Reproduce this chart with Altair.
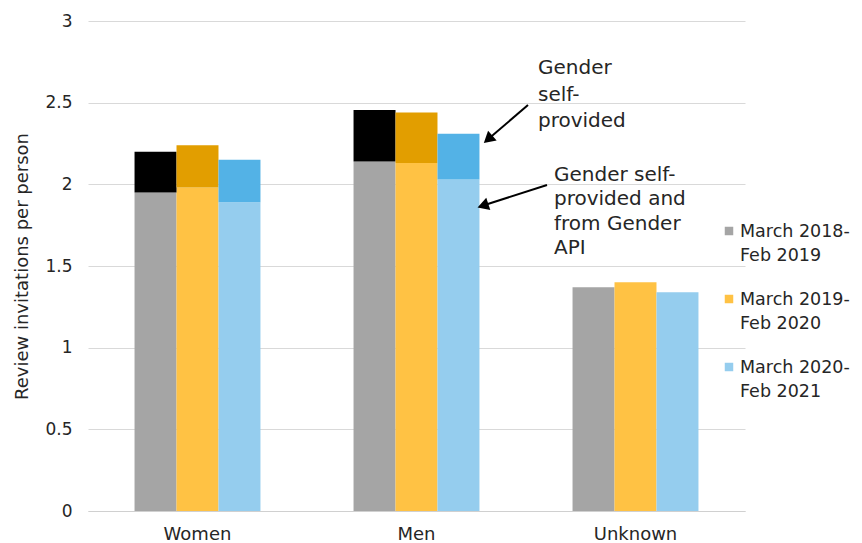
import altair as alt
import pandas as pd

categories = ["Women", "Men", "Unknown"]
periods = ["March 2018-Feb 2019", "March 2019-Feb 2020", "March 2020-Feb 2021"]
legend_line1 = ["March 2018-", "March 2019-", "March 2020-"]
legend_line2 = ["Feb 2019", "Feb 2020", "Feb 2021"]
# lower segment: gender from self-provided and Gender API
base_values = {
    "Women": [1.95, 1.98, 1.89],
    "Men": [2.14, 2.13, 2.03],
    "Unknown": [1.37, 1.40, 1.34],
}
# full bar height: gender self-provided (only Women/Men)
total_values = {
    "Women": [2.20, 2.24, 2.15],
    "Men": [2.455, 2.44, 2.31],
}
base_colors = ["#a5a5a5", "#ffc244", "#95cdee"]
top_colors = ["#000000", "#e29e00", "#53b2e6"]
y_ticks = [0, 0.5, 1, 1.5, 2, 2.5, 3]

annot_texts = ["Gender\nself-\nprovided", "Gender self-\nprovided and\nfrom Gender\nAPI"]
annot_x = [450, 466]
annot_y = [53, 160]
annot_lh = [26.5, 24.3]
# arrows: tail / head (x in px within plot, y in data units)
arrow_x1 = [440, 459]
arrow_y1 = [2.486, 1.996]
arrow_x2 = [401.5, 396.7]
arrow_y2 = [2.283, 1.873]
arrow_angle = [229, 252]

# legend placement (px within plot)
leg_x = 641
leg_y0 = 210
leg_step = 68

FONT = "DejaVu Sans"
TXT = "#262626"

rows = []
for c in categories:
    for i, p in enumerate(periods):
        b = base_values[c][i]
        t = total_values.get(c, [None] * 3)[i]
        rows.append({"category": c, "period": p, "base": b, "total": t,
                     "top_period": p + " top"})
df = pd.DataFrame(rows)
df_top = df.dropna(subset=["total"])

xenc = alt.X("category:N", sort=categories,
             scale=alt.Scale(paddingInner=0.425, paddingOuter=0.2125),
             axis=alt.Axis(title=None, labelAngle=0, ticks=False, domainColor="#d0d0d0",
                           labelFontSize=18, labelPadding=14, labelColor=TXT,
                           labelFont=FONT, grid=False))
xoff = alt.XOffset("period:N", sort=periods, scale=alt.Scale(paddingInner=0, paddingOuter=0))
yscale = alt.Scale(domain=[0, 3], nice=False)

base = alt.Chart(df).mark_bar().encode(
    x=xenc,
    xOffset=xoff,
    y=alt.Y("base:Q", scale=yscale,
            axis=alt.Axis(title="Review invitations per person", values=y_ticks,
                          format="~g",
                          domain=False, ticks=False, gridColor="#d9d9d9",
                          labelFontSize=17, labelPadding=16, labelColor=TXT,
                          labelFont=FONT, titleFont=FONT, titleFontSize=18,
                          titleFontWeight="normal", titleColor=TXT,
                          titlePadding=13)),
    color=alt.Color("period:N", sort=periods,
                    scale=alt.Scale(domain=periods, range=base_colors), legend=None),
)

top = alt.Chart(df_top).mark_bar().encode(
    x=alt.X("category:N", sort=categories),
    xOffset=xoff,
    y=alt.Y("base:Q", scale=yscale),
    y2="total:Q",
    color=alt.Color("top_period:N", scale=alt.Scale(domain=[p + " top" for p in periods],
                                                    range=top_colors), legend=None),
)

texts = []
for t, x, y, lh in zip(annot_texts, annot_x, annot_y, annot_lh):
    texts.append(alt.Chart(pd.DataFrame({"t": [t]})).mark_text(
        align="left", baseline="alphabetic", fontSize=20, font=FONT, color=TXT,
        lineBreak="\n", lineHeight=lh
    ).encode(x=alt.value(x), y=alt.value(y), text="t:N"))

arrows = []
for x1, y1, x2, y2 in zip(arrow_x1, arrow_y1, arrow_x2, arrow_y2):
    d = pd.DataFrame({"y1": [y1], "y2": [y2]})
    arrows.append(alt.Chart(d).mark_rule(color="#000000", strokeWidth=2).encode(
        x=alt.value(x1), x2=alt.value(x2), y=alt.Y("y1:Q", scale=yscale), y2="y2:Q"))

heads = []
for x2, y2, ang in zip(arrow_x2, arrow_y2, arrow_angle):
    d = pd.DataFrame({"y": [y2]})
    heads.append(alt.Chart(d).mark_point(shape="triangle", filled=True, color="#000000",
                                         size=170, angle=ang, opacity=1).encode(
        x=alt.value(x2), y=alt.Y("y:Q", scale=yscale)))

legend_layers = []
for i, (p, l1, l2, col) in enumerate(zip(periods, legend_line1, legend_line2, base_colors)):
    yy = leg_y0 + i * leg_step
    d = pd.DataFrame({"t": [l1 + "\n" + l2]})
    legend_layers.append(alt.Chart(d).mark_square(size=72, color=col, opacity=1).encode(
        x=alt.value(leg_x), y=alt.value(yy)))
    legend_layers.append(alt.Chart(d).mark_text(
        align="left", baseline="alphabetic", fontSize=17.5, font=FONT, color=TXT,
        lineBreak="\n", lineHeight=24).encode(
        x=alt.value(leg_x + 11), y=alt.value(yy + 6), text="t:N"))

chart = alt.layer(base, top, *arrows, *heads, *texts, *legend_layers).resolve_scale(
    color="independent"
).properties(
    width=657, height=490,
    autosize=alt.AutoSizeParams(type="none"),
    padding={"left": 80, "top": 13, "right": 109, "bottom": 35},
).configure(font=FONT, view=alt.ViewConfig(stroke=None))

chart.save("out.html", embed_options={"renderer": "svg", "actions": False})
